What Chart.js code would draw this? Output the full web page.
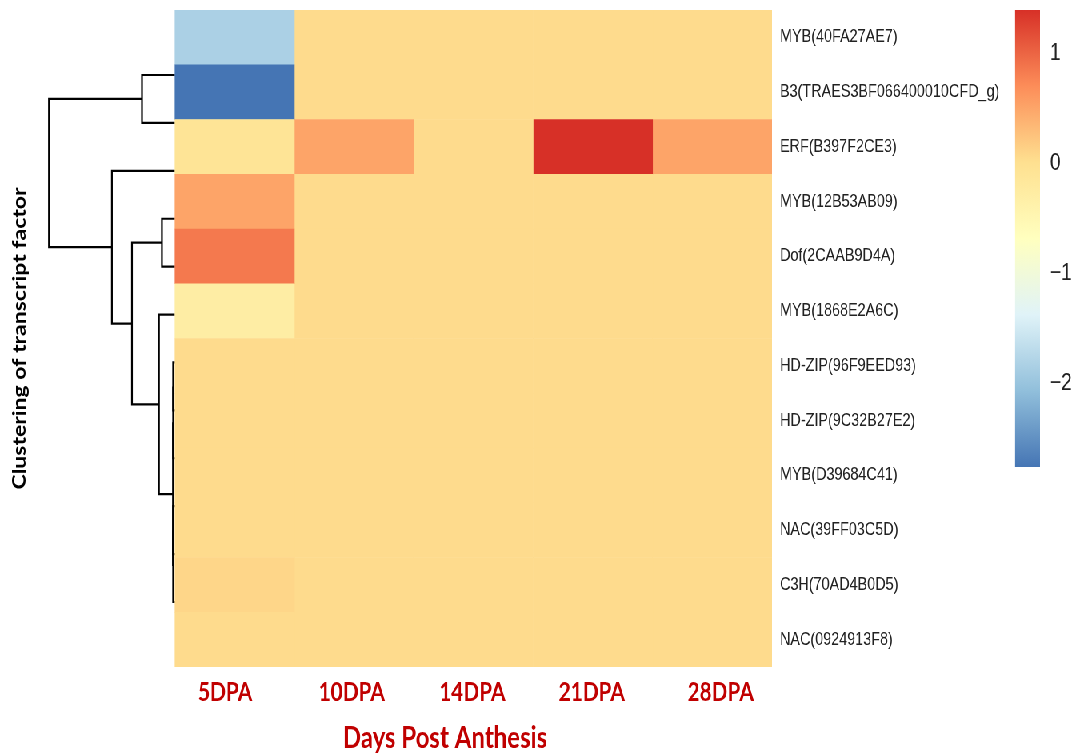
<!DOCTYPE html>
<html>
<head>
<meta charset="utf-8">
<script src="https://cdn.jsdelivr.net/npm/chart.js@4.4.1/dist/chart.umd.min.js"></script>
<style>
html, body { margin: 0; padding: 0; background: #fff; overflow: hidden; }
/* the figure is a little narrow, so everything is drawn wider and squeezed */
#wrap { position: absolute; left: 0; top: 0; width: 1351px; height: 753px; transform: scaleX(0.8); transform-origin: 0 0; }
#bar { position: absolute; left: 1230px; top: 0; }
</style>
</head>
<body>
<div id="wrap">
  <canvas id="heat" width="1351" height="753"></canvas>
  <canvas id="bar" width="121" height="753"></canvas>
</div>
<script>
var columns = ['5DPA', '10DPA', '14DPA', '21DPA', '28DPA'];
var genes = ['MYB(40FA27AE7)', 'B3(TRAES3BF066400010CFD_g)', 'ERF(B397F2CE3)', 'MYB(12B53AB09)',
  'Dof(2CAAB9D4A)', 'MYB(1868E2A6C)', 'HD-ZIP(96F9EED93)', 'HD-ZIP(9C32B27E2)',
  'MYB(D39684C41)', 'NAC(39FF03C5D)', 'C3H(70AD4B0D5)', 'NAC(0924913F8)'];

// z-scores per column, rows in the order of genes
var dpa5  = [-1.84, -2.76, -0.10, 0.50, 0.83, -0.28, 0.05, 0.05, 0.05, 0.05, 0.10, 0.05];
var dpa10 = [0.05, 0.05, 0.51, 0.05, 0.05, 0.05, 0.05, 0.05, 0.05, 0.05, 0.05, 0.05];
var dpa14 = [0.05, 0.05, 0.05, 0.05, 0.05, 0.05, 0.05, 0.05, 0.05, 0.05, 0.05, 0.05];
var dpa21 = [0.05, 0.05, 1.39, 0.05, 0.05, 0.05, 0.05, 0.05, 0.05, 0.05, 0.05, 0.05];
var dpa28 = [0.05, 0.05, 0.51, 0.05, 0.05, 0.05, 0.05, 0.05, 0.05, 0.05, 0.05, 0.05];

// row clustering, hclust style: negative = leaf (row), positive = earlier merge
var mergeA = [-1, -4, -7, 3, -10, 5, 4, -6, 2, -3, 1];
var mergeB = [-2, -5, -8, -9, -11, -12, 6, 7, 8, 9, 10];
var mergeHeight = [0.276, 0.109, 0.015, 0.015, 0.015, 0.015, 0.017, 0.134, 0.36, 0.528, 1.055];

var colorTicks = [-2, -1, 0, 1];
var palette = ['#4575B4', '#91BFDB', '#E0F3F8', '#FFFFBF', '#FEE090', '#FC8D59', '#D73027'];

var values = [dpa5, dpa10, dpa14, dpa21, dpa28];
var all = [].concat.apply([], values);
var vMin = Math.min.apply(null, all);
var vMax = Math.max.apply(null, all);

function rgb(c) {
  return [parseInt(c.substr(1, 2), 16), parseInt(c.substr(3, 2), 16), parseInt(c.substr(5, 2), 16)];
}
function ramp(t) {
  var s = t * (palette.length - 1);
  var i = Math.min(Math.floor(s), palette.length - 2);
  var f = s - i;
  var a = rgb(palette[i]), b = rgb(palette[i + 1]);
  return 'rgb(' + [0, 1, 2].map(function(k) { return Math.round(a[k] + (b[k] - a[k]) * f); }).join(',') + ')';
}
function cellColor(v) {
  var bin = Math.min(99, Math.floor((v - vMin) / (vMax - vMin) * 100));
  return ramp(bin / 99);
}
function noPad(s) {
  s.paddingTop = 0; s.paddingBottom = 0; s.paddingLeft = 0; s.paddingRight = 0;
}

var font = '"Liberation Sans", Arial, sans-serif';
var red = '#C00000';
var datasets = [];

values.forEach(function(col, c) {
  datasets.push({
    type: 'bar',
    label: columns[c],
    data: col.map(function() { return [c, c + 1]; }),
    backgroundColor: col.map(cellColor),
    borderWidth: 0,
    barPercentage: 1,
    categoryPercentage: 1,
    grouped: false,
    xAxisID: 'x',
    yAxisID: 'y'
  });
});

var nodeY = [], nodeH = [];
function node(ref) {
  if (ref < 0) return { y: -ref - 1, h: 0 };
  return { y: nodeY[ref - 1], h: nodeH[ref - 1] };
}
for (var i = 0; i < mergeHeight.length; i++) {
  var a = node(mergeA[i]), b = node(mergeB[i]), h = mergeHeight[i];
  if (a.y > b.y) { var t = a; a = b; b = t; }
  nodeY.push((a.y + b.y) / 2);
  nodeH.push(h);
  datasets.push({
    type: 'line',
    data: [{ x: -a.h, y: a.y }, { x: -h, y: a.y }, { x: -h, y: b.y }, { x: -b.h, y: b.y }],
    borderColor: '#000',
    borderWidth: 2.2,
    pointRadius: 0,
    fill: false,
    tension: 0,
    clip: false,
    xAxisID: 'x',
    yAxisID: 'yd'
  });
}

// where the column labels sit (they are a bit spread out in the figure)
var columnLabelAt = [0.42, 1.48, 2.49, 3.49, 4.57];

new Chart(document.getElementById('heat'), {
  type: 'bar',
  data: { labels: genes, datasets: datasets },
  options: {
    responsive: false,
    animation: false,
    events: [],
    indexAxis: 'y',
    layout: { padding: { top: 10, left: 0, right: 0, bottom: 0 } },
    plugins: { legend: { display: false }, tooltip: { enabled: false } },
    scales: {
      x: {
        type: 'linear',
        position: 'bottom',
        min: -0.477,
        max: columns.length,
        grid: { display: false, drawTicks: false },
        border: { display: false },
        afterBuildTicks: function(s) {
          s.ticks = columnLabelAt.map(function(v) { return { value: v }; });
        },
        ticks: {
          autoSkip: false,
          maxRotation: 0,
          padding: 10,
          color: red,
          font: { family: 'Lato', weight: 'bold', size: 26 },
          callback: function(v, i) { return columns[i]; }
        },
        title: {
          display: true,
          text: 'Days Post Anthesis',
          color: red,
          font: { family: 'Lato', weight: 'bold', size: 30, lineHeight: 1 },
          padding: { top: 0, bottom: 0 }
        },
        afterFit: function(s) { s.height = 86; noPad(s); }
      },
      y: {
        type: 'category',
        position: 'right',
        grid: { display: false, drawTicks: false },
        border: { display: false },
        ticks: { autoSkip: false, padding: 10, color: '#222', font: { family: font, size: 18 } },
        afterFit: function(s) { s.width = 386; noPad(s); }
      },
      yd: {
        type: 'linear',
        position: 'left',
        min: -0.5,
        max: genes.length - 0.5,
        reverse: true,
        grid: { display: false, drawTicks: false },
        border: { display: false },
        ticks: { display: false },
        title: {
          display: true,
          text: 'Clustering of transcript factor',
          color: '#000',
          font: { family: 'Lato', weight: 'bold', size: 23 },
          padding: { top: 11.2, bottom: 0 }
        },
        afterFit: function(s) { s.width = 147.5; noPad(s); }
      }
    }
  }
});

new Chart(document.getElementById('bar'), {
  type: 'bar',
  data: {
    labels: [''],
    datasets: [{
      data: [[vMin, vMax]],
      borderWidth: 0,
      barPercentage: 1,
      categoryPercentage: 1,
      backgroundColor: function(ctx) {
        var chart = ctx.chart;
        if (!chart.chartArea) return palette[3];
        var ys = chart.scales.y;
        var g = chart.ctx.createLinearGradient(0, ys.getPixelForValue(vMin), 0, ys.getPixelForValue(vMax));
        palette.forEach(function(c, k) { g.addColorStop(k / (palette.length - 1), c); });
        return g;
      }
    }]
  },
  options: {
    responsive: false,
    animation: false,
    events: [],
    layout: { padding: { left: 38.75, top: 10, bottom: 286, right: 0 } },
    plugins: { legend: { display: false }, tooltip: { enabled: false } },
    scales: {
      x: { display: false },
      y: {
        position: 'right',
        min: vMin,
        max: vMax,
        grid: { display: false, drawTicks: false },
        border: { display: false },
        afterBuildTicks: function(s) {
          s.ticks = colorTicks.map(function(v) { return { value: v }; });
        },
        ticks: {
          padding: 12.5,
          color: '#222',
          font: { family: font, size: 24 },
          callback: function(v) { return String(v).replace('-', '\u2212'); }
        },
        afterFit: function(s) { s.width = 51; noPad(s); }
      }
    }
  }
});
</script>
</body>
</html>
